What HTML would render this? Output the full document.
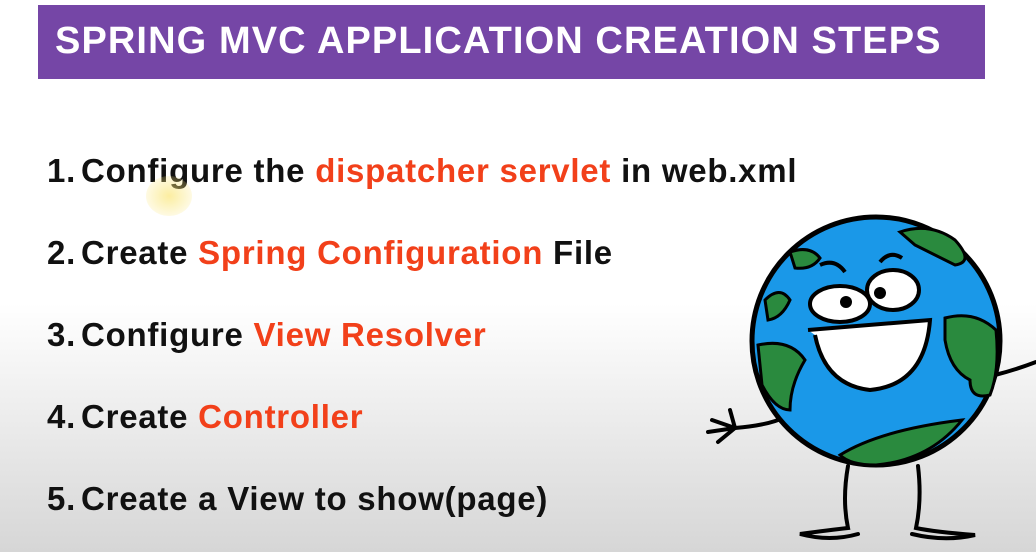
<!DOCTYPE html>
<html><head><meta charset="utf-8"><style>
html,body{margin:0;padding:0}
body{width:1036px;height:552px;overflow:hidden;position:relative;background:linear-gradient(#fff 0,#fff 55%,#d6d6d6 100%);font-family:"Liberation Sans",Arial,sans-serif}
.hdr{position:absolute;left:38px;top:5px;width:947px;height:74px;background:#7546a6}
.hdr span{position:absolute;left:17px;top:15px;color:#fff;font-weight:bold;font-size:38px;letter-spacing:1.1px;white-space:nowrap}
.it{position:absolute;left:47px;font-size:33px;font-weight:bold;color:#111;white-space:nowrap;letter-spacing:0.75px}
.n{margin-right:5px}
.r{color:#f2401a}
</style></head><body>
<div class="hdr"><span>SPRING MVC APPLICATION CREATION STEPS</span></div>
<div class="it" style="top:152px"><span class="n">1.</span>Configure the <span class="r">dispatcher servlet</span> in web.xml</div>
<div class="it" style="top:234px"><span class="n">2.</span>Create <span class="r">Spring Configuration</span> File</div>
<div class="it" style="top:316px"><span class="n">3.</span>Configure <span class="r">View Resolver</span></div>
<div class="it" style="top:398px"><span class="n">4.</span>Create <span class="r">Controller</span></div>
<div class="it" style="top:480px"><span class="n">5.</span>Create a View to show(page)</div>
<div style="position:absolute;left:146px;top:176px;width:46px;height:40px;border-radius:50%;background:radial-gradient(rgba(250,230,120,0.7),rgba(250,230,120,0))"></div>
<svg style="position:absolute;left:0;top:0" width="1036" height="552" viewBox="0 0 1036 552">
<g stroke="#000" stroke-width="4" fill="none" stroke-linecap="round">
<path d="M785 417 Q770 425 735 428"/>
<path d="M735 428 L712 420 M735 428 L708 432 M735 428 L718 442 M735 428 L730 410"/>
<path d="M995 375 Q1015 370 1036 362"/>
<path d="M848 466 Q842 500 848 528 Q830 530 800 534 Q830 542 858 534"/>
<path d="M918 466 Q922 500 916 528 Q935 532 975 535 Q945 542 912 534"/>
</g>
<circle cx="876" cy="341" r="124" fill="#1a98e8" stroke="#000" stroke-width="5"/>
<g fill="#2a8a3e" stroke="#000" stroke-width="3">
<path d="M900 232 Q930 222 955 240 Q975 262 955 265 Q935 255 915 245 Z"/>
<path d="M790 252 Q810 245 820 258 Q812 270 795 268 Z"/>
<path d="M765 300 Q780 285 790 300 Q782 318 768 320 Z"/>
<path d="M758 345 Q790 338 805 360 Q790 385 790 410 Q775 410 762 385 Z"/>
<path d="M945 318 Q975 310 996 330 Q1000 370 990 395 Q970 400 970 380 Q950 370 945 340 Z"/>
<path d="M840 455 Q880 430 962 420 Q930 460 876 465 Q850 465 840 455 Z"/>
</g>
<g stroke="#000" stroke-width="4">
<ellipse cx="840" cy="304" rx="30" ry="18" fill="#fff"/>
<ellipse cx="893" cy="290" rx="26" ry="20" fill="#fff"/>
<path d="M808 330 Q870 325 930 320 Q925 385 870 390 Q825 385 815 335" fill="#fff"/>
<path d="M820 265 Q835 258 845 272 M880 262 Q890 250 902 258" fill="none"/>
</g>
<circle cx="846" cy="302" r="6" fill="#000"/>
<circle cx="880" cy="293" r="6" fill="#000"/>
</svg>
</body></html>
